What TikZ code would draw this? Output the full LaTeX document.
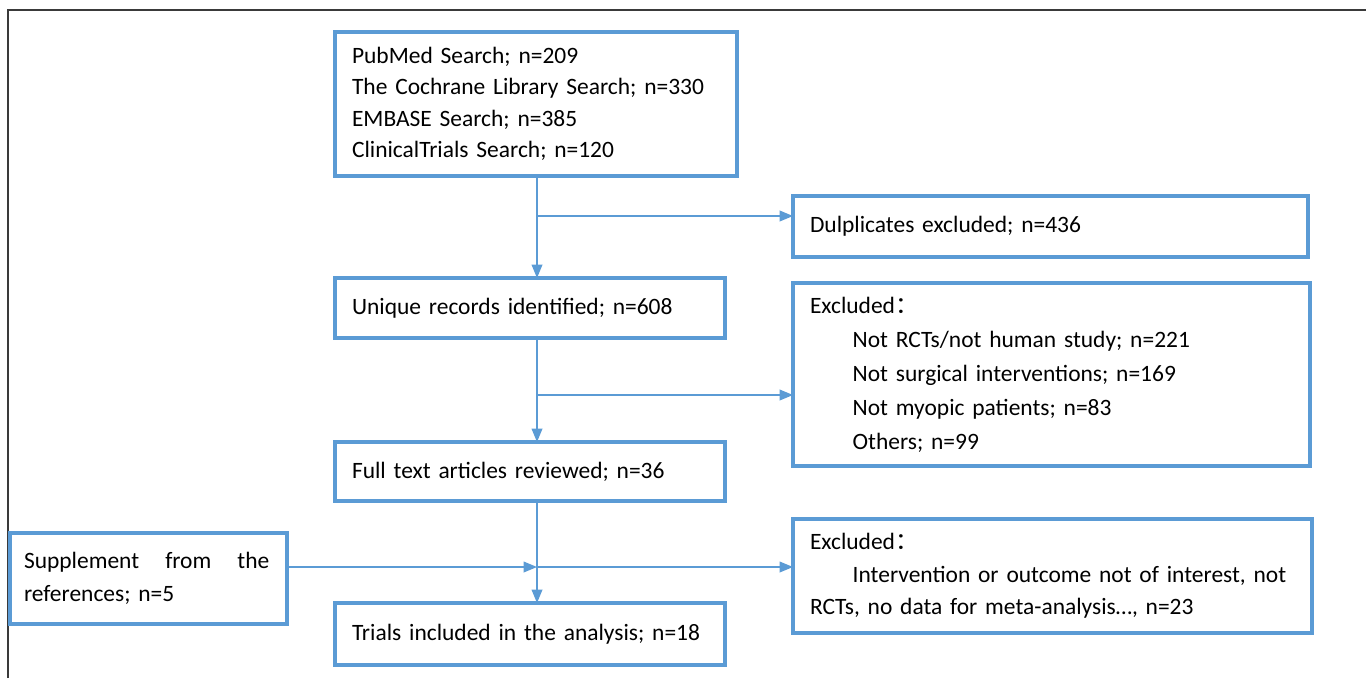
\documentclass[tikz,border=0pt]{standalone}
\usepackage{fontspec}
\setmainfont{Carlito}
\newfontfamily\cjk{Noto Sans CJK SC}
\usetikzlibrary{arrows.meta}
\definecolor{boxblue}{HTML}{5B9BD5}
\definecolor{framegray}{HTML}{3A3A3A}
\newcommand{\fcolon}{{\cjk ：}}
\begin{document}
\begin{tikzpicture}[x=0.75pt,y=-0.75pt,
  box/.style={draw=boxblue,line width=2.5pt,anchor=north west,outer sep=0pt,inner xsep=12.75pt,inner ysep=0pt,align=left,font=\fontsize{17.6}{23.5}\selectfont},
  arr/.style={draw=boxblue,line width=1.1pt,-{Triangle[length=10pt,width=8pt]}}]
\useasboundingbox (0,0) rectangle (1366,678);
% frame
\draw[framegray,line width=1.5pt] (8,678) -- (8,10) -- (1366,10);
% boxes
\node[box,text width=276pt,minimum height=108pt] (search) at (335,32) {PubMed Search; n=209\\The Cochrane Library Search; n=330\\EMBASE Search; n=385\\ClinicalTrials Search; n=120};
\node[box,text width=360.75pt,minimum height=45.75pt] (dup) at (793,196) {Dulplicates excluded; n=436\\[-4pt]};
\node[box,text width=267pt,minimum height=45pt] (uniq) at (335,278) {Unique records identified; n=608};
\node[box,text width=362.25pt,minimum height=137.25pt,font=\fontsize{17.6}{25.5}\selectfont] (excla) at (793,283) {Excluded\fcolon\\\hspace*{32pt}Not RCTs/not human study; n=221\\\hspace*{32pt}Not surgical interventions; n=169\\\hspace*{32pt}Not myopic patients; n=83\\\hspace*{32pt}Others; n=99};
\node[box,text width=267pt,minimum height=44.25pt] (full) at (335,442) {Full text articles reviewed; n=36};
\node[box,inner xsep=10.5pt,text width=186.75pt,minimum height=68.25pt,font=\fontsize{17.6}{25}\selectfont] (supp) at (10,533) {\hbox to 184pt{Supplement\hfill from\hfill the}\\references; n=5};
\node[box,text width=363.75pt,minimum height=85.5pt,font=\fontsize{17.6}{24.5}\selectfont] (exclb) at (793,519) {Excluded\fcolon\\\hspace*{32pt}Intervention or outcome not of interest, not\\RCTs, no data for meta-analysis…, n=23};
\node[box,text width=267pt,minimum height=46.5pt] (trials) at (335,603) {Trials included in the analysis; n=18\\[-6pt]};
% connectors
\coordinate (ba) at (537,216);
\coordinate (bb) at (537,395);
\coordinate (bc) at (537,567);
\draw[arr] (ba |- search.south) -- (ba |- uniq.north);
\draw[arr] (ba) -- (ba -| dup.west);
\draw[arr] (bb |- uniq.south) -- (bb |- full.north);
\draw[arr] (bb) -- (bb -| excla.west);
\draw[arr] (bc |- full.south) -- (bc |- trials.north);
\draw[arr] (bc) -- (bc -| exclb.west);
\draw[arr] (bc -| supp.east) -- (bc);
\end{tikzpicture}
\end{document}
